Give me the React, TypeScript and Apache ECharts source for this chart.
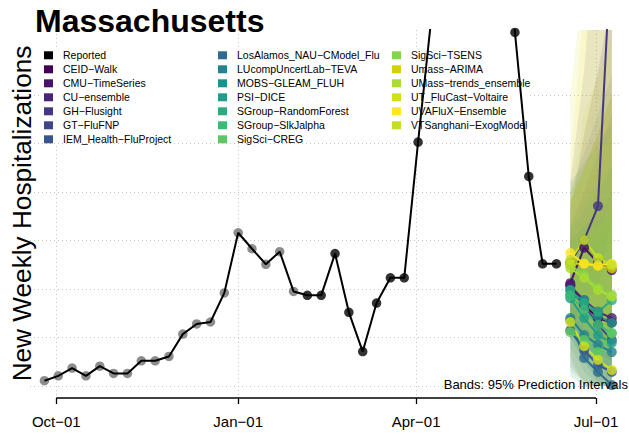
import React, { useEffect, useRef } from 'react';
import * as echarts from 'echarts';

const FONT = '"Liberation Sans", Arial, Helvetica, sans-serif';

// ---------- data ----------
const REPORTED_DATES = [
  '2022-09-25', '2022-10-02', '2022-10-09', '2022-10-16', '2022-10-23', '2022-10-30',
  '2022-11-06', '2022-11-13', '2022-11-20', '2022-11-27', '2022-12-04', '2022-12-11',
  '2022-12-18', '2022-12-25', '2023-01-01', '2023-01-08', '2023-01-15', '2023-01-22',
  '2023-01-29', '2023-02-05', '2023-02-12', '2023-02-19', '2023-02-26', '2023-03-05',
  '2023-03-12', '2023-03-19', '2023-03-26', '2023-04-02', '2023-04-09', '2023-04-16',
  '2023-04-23', '2023-04-30', '2023-05-07', '2023-05-14', '2023-05-21', '2023-05-28',
  '2023-06-04', '2023-06-11',
];
const REPORTED_VALUES = [
  11, 21, 37, 21, 41, 26,
  26, 52, 52, 61, 107, 128,
  132, 192, 316, 283, 251, 277,
  195, 187, 187, 273, 152, 71,
  171, 223, 223, 503, 770, 1100,
  1350, 1400, 1250, 1000, 729, 432,
  252, 252,
];
const GREY_UNTIL = '2023-01-29';

const FORECAST_DATES = ['2023-06-18', '2023-06-25', '2023-07-02', '2023-07-09'];

const MODELS = [
  'CEID−Walk', 'CMU−TimeSeries', 'CU−ensemble', 'GH−Flusight', 'GT−FluFNP',
  'IEM_Health−FluProject', 'LosAlamos_NAU−CModel_Flu', 'LUcompUncertLab−TEVA',
  'MOBS−GLEAM_FLUH', 'PSI−DICE', 'SGroup−RandomForest', 'SGroup−SlkJalpha',
  'SigSci−CREG', 'SigSci−TSENS', 'Umass−ARIMA', 'UMass−trends_ensemble',
  'UT_FluCast−Voltaire', 'UVAFluX−Ensemble', 'VTSanghani−ExogModel',
];
const MODEL_COLORS = [
  '#440154', '#481467', '#482576', '#453781', '#3f4788',
  '#39558c', '#2f6b8e', '#26828e', '#20908d', '#1f9e89',
  '#27ad81', '#3bbb75', '#5dc863', '#85d54a', '#d4d106',
  '#abdc32', '#d0e11c', '#fde725', '#c4df22',
];
const FORECAST_MEDIAN = [
  [208, 167, 140, 131],
  [212, 285, 254, 239],
  [206, 177, 153, 140],
  [254, 301, 371, 928],
  [198, 167, 126, 95],
  [115, 74, 43, 29],
  [136, 58, 29, 2],
  [140, 105, 85, 70],
  [188, 177, 144, 130],
  [181, 140, 105, 89],
  [198, 171, 153, 177],
  [186, 157, 126, 109],
  [111, 95, 70, 109],
  [249, 229, 202, 188],
  [252, 252, 247, 243],
  [243, 223, 198, 184],
  [132, 82, 54, 33],
  [274, 252, 249, 252],
  [260, 301, 264, 249],
];
const FORECAST_LOWER = [
  [120, 70, 40, 25],
  [130, 150, 110, 80],
  [140, 100, 70, 50],
  [170, 180, 200, 350],
  [100, 50, 10, 0],
  [40, 10, 0, 0],
  [60, 0, 0, 0],
  [20, 0, 0, 0],
  [110, 80, 50, 30],
  [80, 30, 0, 0],
  [130, 90, 60, 70],
  [100, 50, 20, 0],
  [30, 10, 0, 10],
  [150, 110, 80, 60],
  [150, 120, 100, 80],
  [150, 100, 70, 40],
  [50, 0, 0, 0],
  [180, 140, 120, 100],
  [180, 170, 130, 100],
];
const FORECAST_UPPER = [
  [380, 450, 520, 600],
  [360, 520, 650, 800],
  [330, 400, 480, 560],
  [420, 650, 1000, 1800],
  [400, 480, 560, 640],
  [300, 330, 360, 400],
  [320, 360, 400, 450],
  [420, 460, 500, 540],
  [300, 330, 340, 360],
  [330, 380, 420, 460],
  [280, 290, 300, 330],
  [300, 320, 330, 350],
  [260, 300, 320, 380],
  [400, 450, 480, 520],
  [380, 450, 520, 600],
  [380, 450, 520, 600],
  [604, 850, 1100, 1300],
  [450, 800, 1000, 1200],
  [380, 560, 640, 720],
];

const X_TICKS = ['2022-10-01', '2023-01-01', '2023-04-01', '2023-07-01'];
const X_TICK_LABELS = ['Oct−01', 'Jan−01', 'Apr−01', 'Jul−01'];
const Y_GRID = [0, 100, 200, 300, 400, 500, 600];

const LEGEND_COLUMNS = [
  ['Reported', 'CEID−Walk', 'CMU−TimeSeries', 'CU−ensemble', 'GH−Flusight', 'GT−FluFNP', 'IEM_Health−FluProject'],
  ['LosAlamos_NAU−CModel_Flu', 'LUcompUncertLab−TEVA', 'MOBS−GLEAM_FLUH', 'PSI−DICE', 'SGroup−RandomForest', 'SGroup−SlkJalpha', 'SigSci−CREG'],
  ['SigSci−TSENS', 'Umass−ARIMA', 'UMass−trends_ensemble', 'UT_FluCast−Voltaire', 'UVAFluX−Ensemble', 'VTSanghani−ExogModel'],
];

// ---------- helpers ----------
const DAY = 86400000;
const ts = (s: string) => Date.parse(s + 'T00:00:00Z');
const X_MIN = ts('2022-10-01') - 13.3 * DAY;
const X_MAX = ts('2023-07-01') + 12.14 * DAY;
const Y_MIN = -24.7;
const Y_MAX = 734;

function buildOption(): any {
  const tickTs = X_TICKS.map(ts);
  const fcT = FORECAST_DATES.map(ts);
  const greyLimit = ts(GREY_UNTIL);

  const series: any[] = [];

  series.push({
    type: 'line',
    name: '__axis',
    data: [[tickTs[0], Y_MIN], [tickTs[tickTs.length - 1], Y_MIN]],
    symbol: 'none',
    clip: false,
    silent: true,
    lineStyle: { color: '#000', width: 1.3 },
    z: 3,
  });

  series.push({
    type: 'scatter',
    name: '__reportedPts',
    data: REPORTED_DATES.map((d, i) => ({
      value: [ts(d), REPORTED_VALUES[i]],
      itemStyle: { color: ts(d) <= greyLimit ? '#707070' : '#000000' },
    })),
    symbol: 'circle',
    symbolSize: 9.5,
    silent: true,
    z: 3,
  });

  series.push({
    type: 'line',
    name: 'Reported',
    data: REPORTED_DATES.map((d, i) => [ts(d), REPORTED_VALUES[i]]),
    showSymbol: false,
    symbol: 'circle',
    color: '#000',
    itemStyle: { color: '#000' },
    lineStyle: { color: '#000', width: 2 },
    silent: true,
    z: 4,
  });

  series.push({
    type: 'custom',
    name: '__bands',
    coordinateSystem: 'cartesian2d',
    clip: true,
    silent: true,
    z: 3,
    data: MODELS.map(() => [fcT[0], 0]),
    renderItem: (params: any, api: any) => {
      const i = params.dataIndex;
      const pts: number[][] = [];
      for (let h = 0; h < fcT.length; h++) pts.push(api.coord([fcT[h], FORECAST_UPPER[i][h]]));
      for (let h = fcT.length - 1; h >= 0; h--) pts.push(api.coord([fcT[h], FORECAST_LOWER[i][h]]));
      return {
        type: 'polygon',
        shape: { points: pts },
        style: { fill: MODEL_COLORS[i], opacity: 0.12 },
        silent: true,
      };
    },
  });

  MODELS.forEach((m, i) => {
    series.push({
      type: 'line',
      name: m,
      data: fcT.map((t, h) => [t, FORECAST_MEDIAN[i][h]]),
      symbol: 'circle',
      symbolSize: 10,
      showSymbol: true,
      color: MODEL_COLORS[i],
      itemStyle: { color: MODEL_COLORS[i], opacity: 0.82 },
      lineStyle: { color: MODEL_COLORS[i], width: 2 },
      silent: true,
      z: 4,
    });
  });

  const legendLefts = [44, 218, 392];
  const legends = LEGEND_COLUMNS.map((col, c) => ({
    orient: 'vertical',
    left: legendLefts[c],
    top: 48.3,
    padding: 0,
    itemWidth: 9,
    itemHeight: 8,
    itemGap: 0,
    icon: 'rect',
    selectedMode: false,
    z: 2,
    itemStyle: { opacity: 1 },
    textStyle: {
      fontFamily: FONT,
      fontSize: 10.5,
      lineHeight: 14,
      color: '#000',
      padding: [0, 0, 0, 5],
    },
    data: col,
  }));

  const gridLine = { show: true, lineStyle: { color: '#c4c4c4', width: 1, type: [1, 3] } };

  return {
    animation: false,
    backgroundColor: '#fff',
    grid: { left: 30, right: 9, top: 30, bottom: 39, containLabel: false },
    xAxis: {
      type: 'value',
      min: X_MIN,
      max: X_MAX,
      axisLine: { show: false, onZero: false },
      axisTick: {
        show: true,
        customValues: tickTs,
        length: 6,
        lineStyle: { color: '#000', width: 1.3 },
      },
      axisLabel: {
        show: true,
        customValues: tickTs,
        margin: 16,
        fontFamily: FONT,
        fontSize: 15,
        color: '#000',
        formatter: (v: number) => {
          const k = tickTs.indexOf(v);
          return k >= 0 ? X_TICK_LABELS[k] : '';
        },
      },
      splitLine: gridLine,
    },
    yAxis: {
      type: 'value',
      min: Y_MIN,
      max: Y_MAX,
      axisLine: { show: false },
      axisTick: { show: false, customValues: Y_GRID },
      axisLabel: { show: false, customValues: Y_GRID },
      splitLine: gridLine,
    },
    legend: legends,
    graphic: [
      {
        type: 'rect',
        shape: { x: 40, y: 47, width: 490, height: 96 },
        style: { fill: '#ffffff' },
        silent: true,
        z: 1,
      },
      {
        type: 'text',
        x: 35,
        y: 21,
        z: 10,
        style: {
          text: 'Massachusetts',
          fontFamily: FONT,
          fontSize: 32,
          fontWeight: 'bold',
          fill: '#000',
          align: 'left',
          verticalAlign: 'middle',
        },
      },
      {
        type: 'text',
        x: 22,
        y: 213.5,
        rotation: Math.PI / 2,
        z: 10,
        style: {
          text: 'New Weekly Hospitalizations',
          fontFamily: FONT,
          fontSize: 26.2,
          fill: '#000',
          align: 'center',
          verticalAlign: 'middle',
        },
      },
      {
        type: 'text',
        x: 628,
        y: 384.5,
        z: 10,
        style: {
          text: 'Bands: 95% Prediction Intervals',
          fontFamily: FONT,
          fontSize: 13,
          fill: '#000',
          align: 'right',
          verticalAlign: 'middle',
        },
      },
    ],
    series,
  };
}

export default function App() {
  const ref = useRef<HTMLDivElement>(null);
  useEffect(() => {
    document.body.style.margin = '0';
    if (!ref.current) return;
    const chart = echarts.init(ref.current, undefined, { renderer: 'svg' });
    chart.setOption(buildOption());
    return () => chart.dispose();
  }, []);
  return (
    <div
      ref={ref}
      style={{ position: 'absolute', left: 0, top: 0, width: 629, height: 437, background: '#fff' }}
    />
  );
}
